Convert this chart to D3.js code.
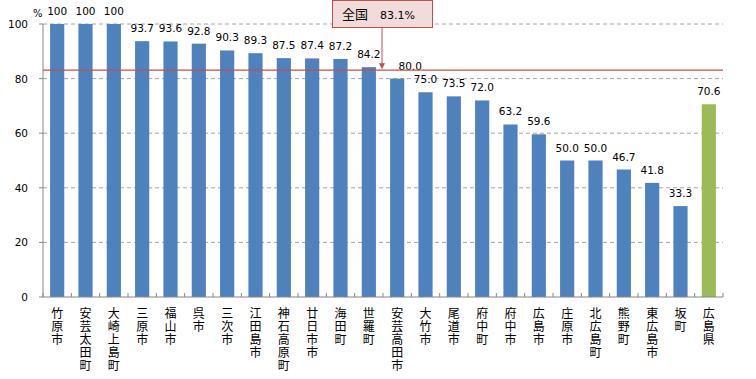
<!DOCTYPE html>
<html lang="ja">
<head>
<meta charset="UTF-8">
<title>広島県 市町別</title>
<script src="https://cdn.jsdelivr.net/npm/d3@7/dist/d3.min.js"></script>
<style>
    body { margin: 0; background: #fff; }
    svg { display: block; }
    text { font-family: "DejaVu Sans", sans-serif; fill: #000; }
    .jp { font-family: "Noto Sans CJK JP", sans-serif; }
    .vert { writing-mode: vertical-rl; letter-spacing: 1px; }
</style>
</head>
<body>
<svg width="756" height="379"></svg>
<script>
    // categories (municipalities) and values (%)
    const names = ["竹原市", "安芸太田町", "大崎上島町", "三原市", "福山市", "呉市", "三次市", "江田島市",
        "神石高原町", "廿日市市", "海田町", "世羅町", "安芸高田市", "大竹市", "尾道市", "府中町",
        "府中市", "広島市", "庄原市", "北広島町", "熊野町", "東広島市", "坂町", "広島県"];
    const values = [100, 100, 100, 93.7, 93.6, 92.8, 90.3, 89.3, 87.5, 87.4, 87.2, 84.2, 80.0, 75.0,
        73.5, 72.0, 63.2, 59.6, 50.0, 50.0, 46.7, 41.8, 33.3, 70.6];
    const yTicks = [0, 20, 40, 60, 80, 100];
    const national = 83.1;
    const nationalLabel = "全国";

    const svg = d3.select("svg");
    const plotLeft = 43, plotRight = 723, plotTop = 24, plotBottom = 297;

    const x = d3.scaleBand().domain(names).range([plotLeft, plotRight]).paddingInner(0.5).paddingOuter(0.25);
    const y = d3.scaleLinear().domain([0, 100]).range([plotBottom, plotTop]);

    // gridlines
    svg.append("g").selectAll("line").data(yTicks.filter(d => d > 0)).enter().append("line")
        .attr("x1", plotLeft).attr("x2", plotRight)
        .attr("y1", d => y(d)).attr("y2", d => y(d))
        .attr("stroke", "#a6a6a6").attr("stroke-dasharray", "4,3");

    // y tick labels
    svg.append("g").selectAll("text").data(yTicks).enter().append("text")
        .attr("x", 28).attr("y", d => y(d) + 4)
        .attr("text-anchor", "end").attr("font-size", "10.5px")
        .text(d => d);
    svg.append("text").attr("x", 33).attr("y", 17).attr("font-size", "10px").text("%");

    // bars
    svg.append("g").selectAll("rect").data(values).enter().append("rect")
        .attr("x", (d, i) => x(names[i]))
        .attr("width", x.bandwidth())
        .attr("y", d => y(d))
        .attr("height", d => y(0) - y(d))
        .attr("fill", (d, i) => i === names.length - 1 ? "#9bbb59" : "#4f81bd");

    // value labels (the one under the arrow is nudged right)
    svg.append("g").selectAll("text").data(values).enter().append("text")
        .attr("x", (d, i) => x(names[i]) + x.bandwidth() / 2 + (names[i] === "安芸高田市" ? 13 : 0))
        .attr("y", d => y(d) - 9)
        .attr("text-anchor", "middle").attr("font-size", "10.5px")
        .text(d => d === 100 ? "100" : d.toFixed(1));

    // axes
    const step = x.step();
    svg.append("line").attr("x1", plotLeft).attr("x2", plotLeft).attr("y1", plotTop).attr("y2", plotBottom)
        .attr("stroke", "#868686");
    svg.append("line").attr("x1", plotLeft).attr("x2", plotRight).attr("y1", plotBottom).attr("y2", plotBottom)
        .attr("stroke", "#868686");
    svg.append("g").selectAll("line").data(d3.range(names.length + 1)).enter().append("line")
        .attr("x1", i => plotLeft + i * step).attr("x2", i => plotLeft + i * step)
        .attr("y1", plotBottom).attr("y2", plotBottom - 4)
        .attr("stroke", "#868686");
    svg.append("g").selectAll("line").data(yTicks).enter().append("line")
        .attr("x1", plotLeft - 4).attr("x2", plotLeft).attr("y1", d => y(d)).attr("y2", d => y(d))
        .attr("stroke", "#868686");

    // vertical category labels
    svg.append("g").selectAll("text").data(names).enter().append("text")
        .attr("class", "jp vert").attr("font-size", "12px")
        .attr("x", d => x(d) + x.bandwidth() / 2)
        .attr("y", 307)
        .text(d => d);

    // national average line
    svg.append("line").attr("x1", plotLeft).attr("x2", plotRight)
        .attr("y1", y(national)).attr("y2", y(national))
        .attr("stroke", "#c0504d").attr("stroke-width", 1.3);

    // callout
    const cx = 382;
    svg.append("line").attr("x1", cx).attr("x2", cx).attr("y1", 28).attr("y2", y(national) - 6)
        .attr("stroke", "#c0504d");
    svg.append("path")
        .attr("d", `M${cx - 3},${y(national) - 7} L${cx + 3},${y(national) - 7} L${cx},${y(national) - 1} Z`)
        .attr("fill", "#c0504d");
    svg.append("rect").attr("x", 332.5).attr("y", 0.5).attr("width", 100).attr("height", 27)
        .attr("fill", "#f2dcdb").attr("stroke", "#c0504d");
    svg.append("text").attr("class", "jp").attr("x", 342).attr("y", 19).attr("font-size", "13px")
        .text(nationalLabel);
    svg.append("text").attr("x", 380).attr("y", 19).attr("font-size", "11px")
        .text(national.toFixed(1) + "%");
</script>
</body>
</html>
